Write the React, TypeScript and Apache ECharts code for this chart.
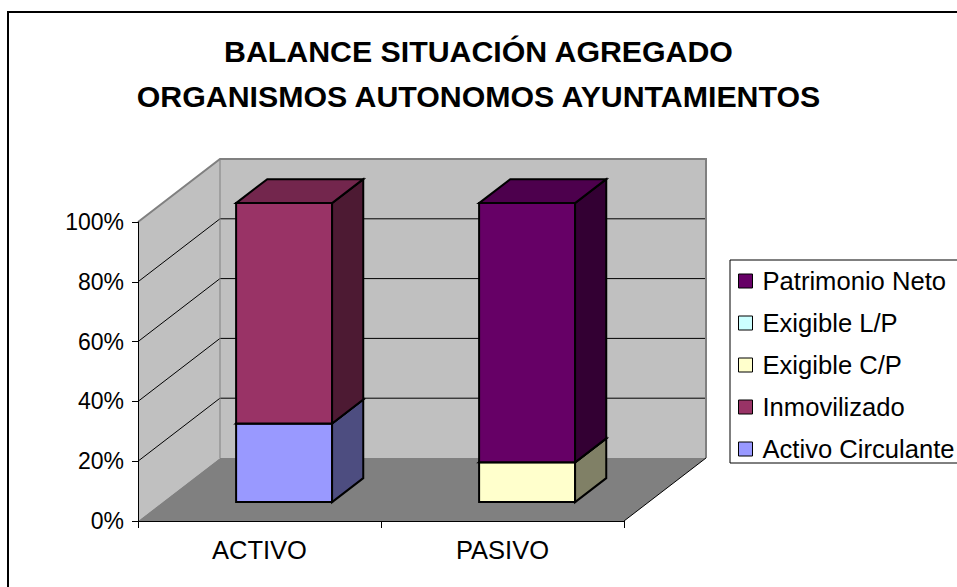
import React, { useEffect, useRef } from 'react';
import * as echarts from 'echarts';

const categories = ['ACTIVO', 'PASIVO'];
const seriesNames = ['Activo Circulante', 'Inmovilizado', 'Exigible C/P', 'Exigible L/P', 'Patrimonio Neto'];
const activoCirculante = [26.3, 0];
const inmovilizado = [73.7, 0];
const exigibleCP = [0, 13.3];
const exigibleLP = [0, 0];
const patrimonioNeto = [0, 86.7];
const seriesValues = [activoCirculante, inmovilizado, exigibleCP, exigibleLP, patrimonioNeto];
const seriesColors = ['#9999ff', '#993366', '#ffffcc', '#ccffff', '#660066'];
const legendOrder = ['Patrimonio Neto', 'Exigible L/P', 'Exigible C/P', 'Inmovilizado', 'Activo Circulante'];
const yTicks = [0, 20, 40, 60, 80, 100];

const FONT = '"Liberation Sans", Arial, Helvetica, sans-serif';
const DX = 82;
const DY = -63;
const BAR_FRONT = 0.3;
const BAR_BACK = 0.68;
const BAR_RATIO = 0.395;

function shade(hex: string, f: number): string {
  const n = parseInt(hex.slice(1), 16);
  const r = Math.round(((n >> 16) & 255) * f);
  const g = Math.round(((n >> 8) & 255) * f);
  const b = Math.round((n & 255) * f);
  return `rgb(${r},${g},${b})`;
}

export default function App() {
  const ref = useRef<HTMLDivElement>(null);

  useEffect(() => {
    if (!ref.current) return;
    const chart = echarts.init(ref.current, null, { renderer: 'svg' });

    const wallsSeries: any = {
      type: 'custom',
      silent: true,
      z: 1,
      data: [[0, 0]],
      renderItem: (params: any, api: any) => {
        const cs = params.coordSys;
        const x0 = cs.x;
        const x1 = cs.x + cs.width;
        const y0 = api.coord([0, 0])[1];
        const y100 = api.coord([0, 100])[1];
        const bx0 = x0 + DX;
        const bx1 = x1 + DX;
        const children: any[] = [];
        children.push({
          type: 'polygon',
          shape: { points: [[x0, y100], [bx0, y100 + DY], [bx0, y0 + DY], [x0, y0]] },
          style: { fill: '#c0c0c0' },
        });
        children.push({
          type: 'rect',
          shape: { x: bx0, y: y100 + DY, width: bx1 - bx0, height: y0 - y100 },
          style: { fill: '#c0c0c0' },
        });
        children.push({
          type: 'polygon',
          shape: { points: [[x0, y0], [x1, y0], [bx1, y0 + DY], [bx0, y0 + DY]] },
          style: { fill: '#808080' },
        });
        yTicks
          .filter((v) => v > 0 && v < 100)
          .forEach((v) => {
            const yf = api.coord([0, v])[1];
            children.push({
              type: 'polyline',
              shape: { points: [[x0, yf], [bx0, yf + DY], [bx1, yf + DY]] },
              style: { stroke: '#000', lineWidth: 1, fill: 'none' },
            });
          });
        children.push({
          type: 'line',
          shape: { x1: bx0, y1: y100 + DY, x2: bx0, y2: y0 + DY },
          style: { stroke: '#808080', lineWidth: 1 },
        });
        children.push({
          type: 'polyline',
          shape: { points: [[x0, y100], [bx0, y100 + DY], [bx1, y100 + DY], [bx1, y0 + DY]] },
          style: { stroke: '#808080', lineWidth: 2, fill: 'none' },
        });
        children.push({
          type: 'line',
          shape: { x1: x1, y1: y0, x2: bx1, y2: y0 + DY },
          style: { stroke: '#000', lineWidth: 1 },
        });
        return { type: 'group', children };
      },
    };

    const bases = categories.map(() => 0);
    const barSeries = seriesNames.map((name, i) => {
      const vals = seriesValues[i];
      const data = categories.map((_, j) => {
        const lo = bases[j];
        const hi = lo + vals[j];
        bases[j] = hi;
        return [j, lo, hi];
      });
      const color = seriesColors[i];
      return {
        type: 'custom',
        name,
        z: 2,
        itemStyle: { color },
        encode: { x: 0, y: [1, 2] },
        data,
        renderItem: (params: any, api: any) => {
          const cat = api.value(0);
          const lo = api.value(1);
          const hi = api.value(2);
          if (!(hi - lo > 0)) return { type: 'group', children: [] };
          const pLo = api.coord([cat, lo]);
          const pHi = api.coord([cat, hi]);
          const bw = api.size([1, 0])[0] * BAR_RATIO;
          const fx = DX * BAR_FRONT;
          const fy = DY * BAR_FRONT;
          const ddx = DX * (BAR_BACK - BAR_FRONT);
          const ddy = DY * (BAR_BACK - BAR_FRONT);
          const xl = pLo[0] - bw / 2 + fx;
          const xr = xl + bw;
          const yb = pLo[1] + fy;
          const yt = pHi[1] + fy;
          const line = { stroke: '#000', lineWidth: 2, lineJoin: 'miter' };
          return {
            type: 'group',
            children: [
              {
                type: 'polygon',
                shape: { points: [[xl, yb], [xr, yb], [xr, yt], [xl, yt]] },
                style: { fill: color, ...line },
              },
              {
                type: 'polygon',
                shape: { points: [[xr, yb], [xr + ddx, yb + ddy], [xr + ddx, yt + ddy], [xr, yt]] },
                style: { fill: shade(color, 0.5), ...line },
              },
              {
                type: 'polygon',
                shape: { points: [[xl, yt], [xr, yt], [xr + ddx, yt + ddy], [xl + ddx, yt + ddy]] },
                style: { fill: shade(color, 0.75), ...line },
              },
            ],
          };
        },
      };
    });

    chart.setOption({
      animation: false,
      backgroundColor: '#ffffff',
      title: {
        text: 'BALANCE SITUACIÓN AGREGADO\nORGANISMOS AUTONOMOS AYUNTAMIENTOS',
        left: 'center',
        top: 29,
        padding: 0,
        textStyle: { fontSize: 30.3, fontWeight: 'bold', lineHeight: 45, color: '#000', fontFamily: FONT },
      },
      legend: {
        data: legendOrder,
        orient: 'vertical',
        left: 730,
        top: 260,
        itemWidth: 14,
        itemHeight: 14,
        itemGap: 16,
        icon: 'rect',
        padding: [8, 14, 1, 8],
        borderColor: '#000',
        borderWidth: 1,
        selectedMode: false,
        itemStyle: { borderColor: '#000', borderWidth: 1 },
        textStyle: { fontSize: 25.6, lineHeight: 25, color: '#000', fontFamily: FONT, padding: [0, 0, 0, 5] },
      },
      grid: { left: 138, top: 222, width: 486, height: 299, containLabel: false },
      xAxis: {
        type: 'category',
        data: categories,
        z: 10,
        axisLine: { show: true, lineStyle: { color: '#000', width: 1 } },
        axisTick: { show: true, length: 7, lineStyle: { color: '#000' } },
        axisLabel: { fontSize: 25.5, color: '#000', fontFamily: FONT, margin: 16 },
        splitLine: { show: false },
      },
      yAxis: {
        type: 'value',
        min: 0,
        max: 100,
        interval: 20,
        z: 10,
        axisLine: { show: true, lineStyle: { color: '#000', width: 1 } },
        axisTick: { show: true, length: 6, lineStyle: { color: '#000' } },
        axisLabel: { fontSize: 23, color: '#000', fontFamily: FONT, margin: 14, formatter: '{value}%' },
        splitLine: { show: false },
      },
      graphic: [
        {
          type: 'rect',
          shape: { x: 8, y: 12, width: 1000, height: 1000 },
          style: { fill: 'none', stroke: '#000', lineWidth: 2 },
          silent: true,
          z: 100,
        },
      ],
      series: [wallsSeries, ...barSeries],
    });

    return () => chart.dispose();
  }, []);

  return (
    <div
      ref={ref}
      style={{ position: 'absolute', left: 0, top: 0, width: 957, height: 587 }}
    />
  );
}
